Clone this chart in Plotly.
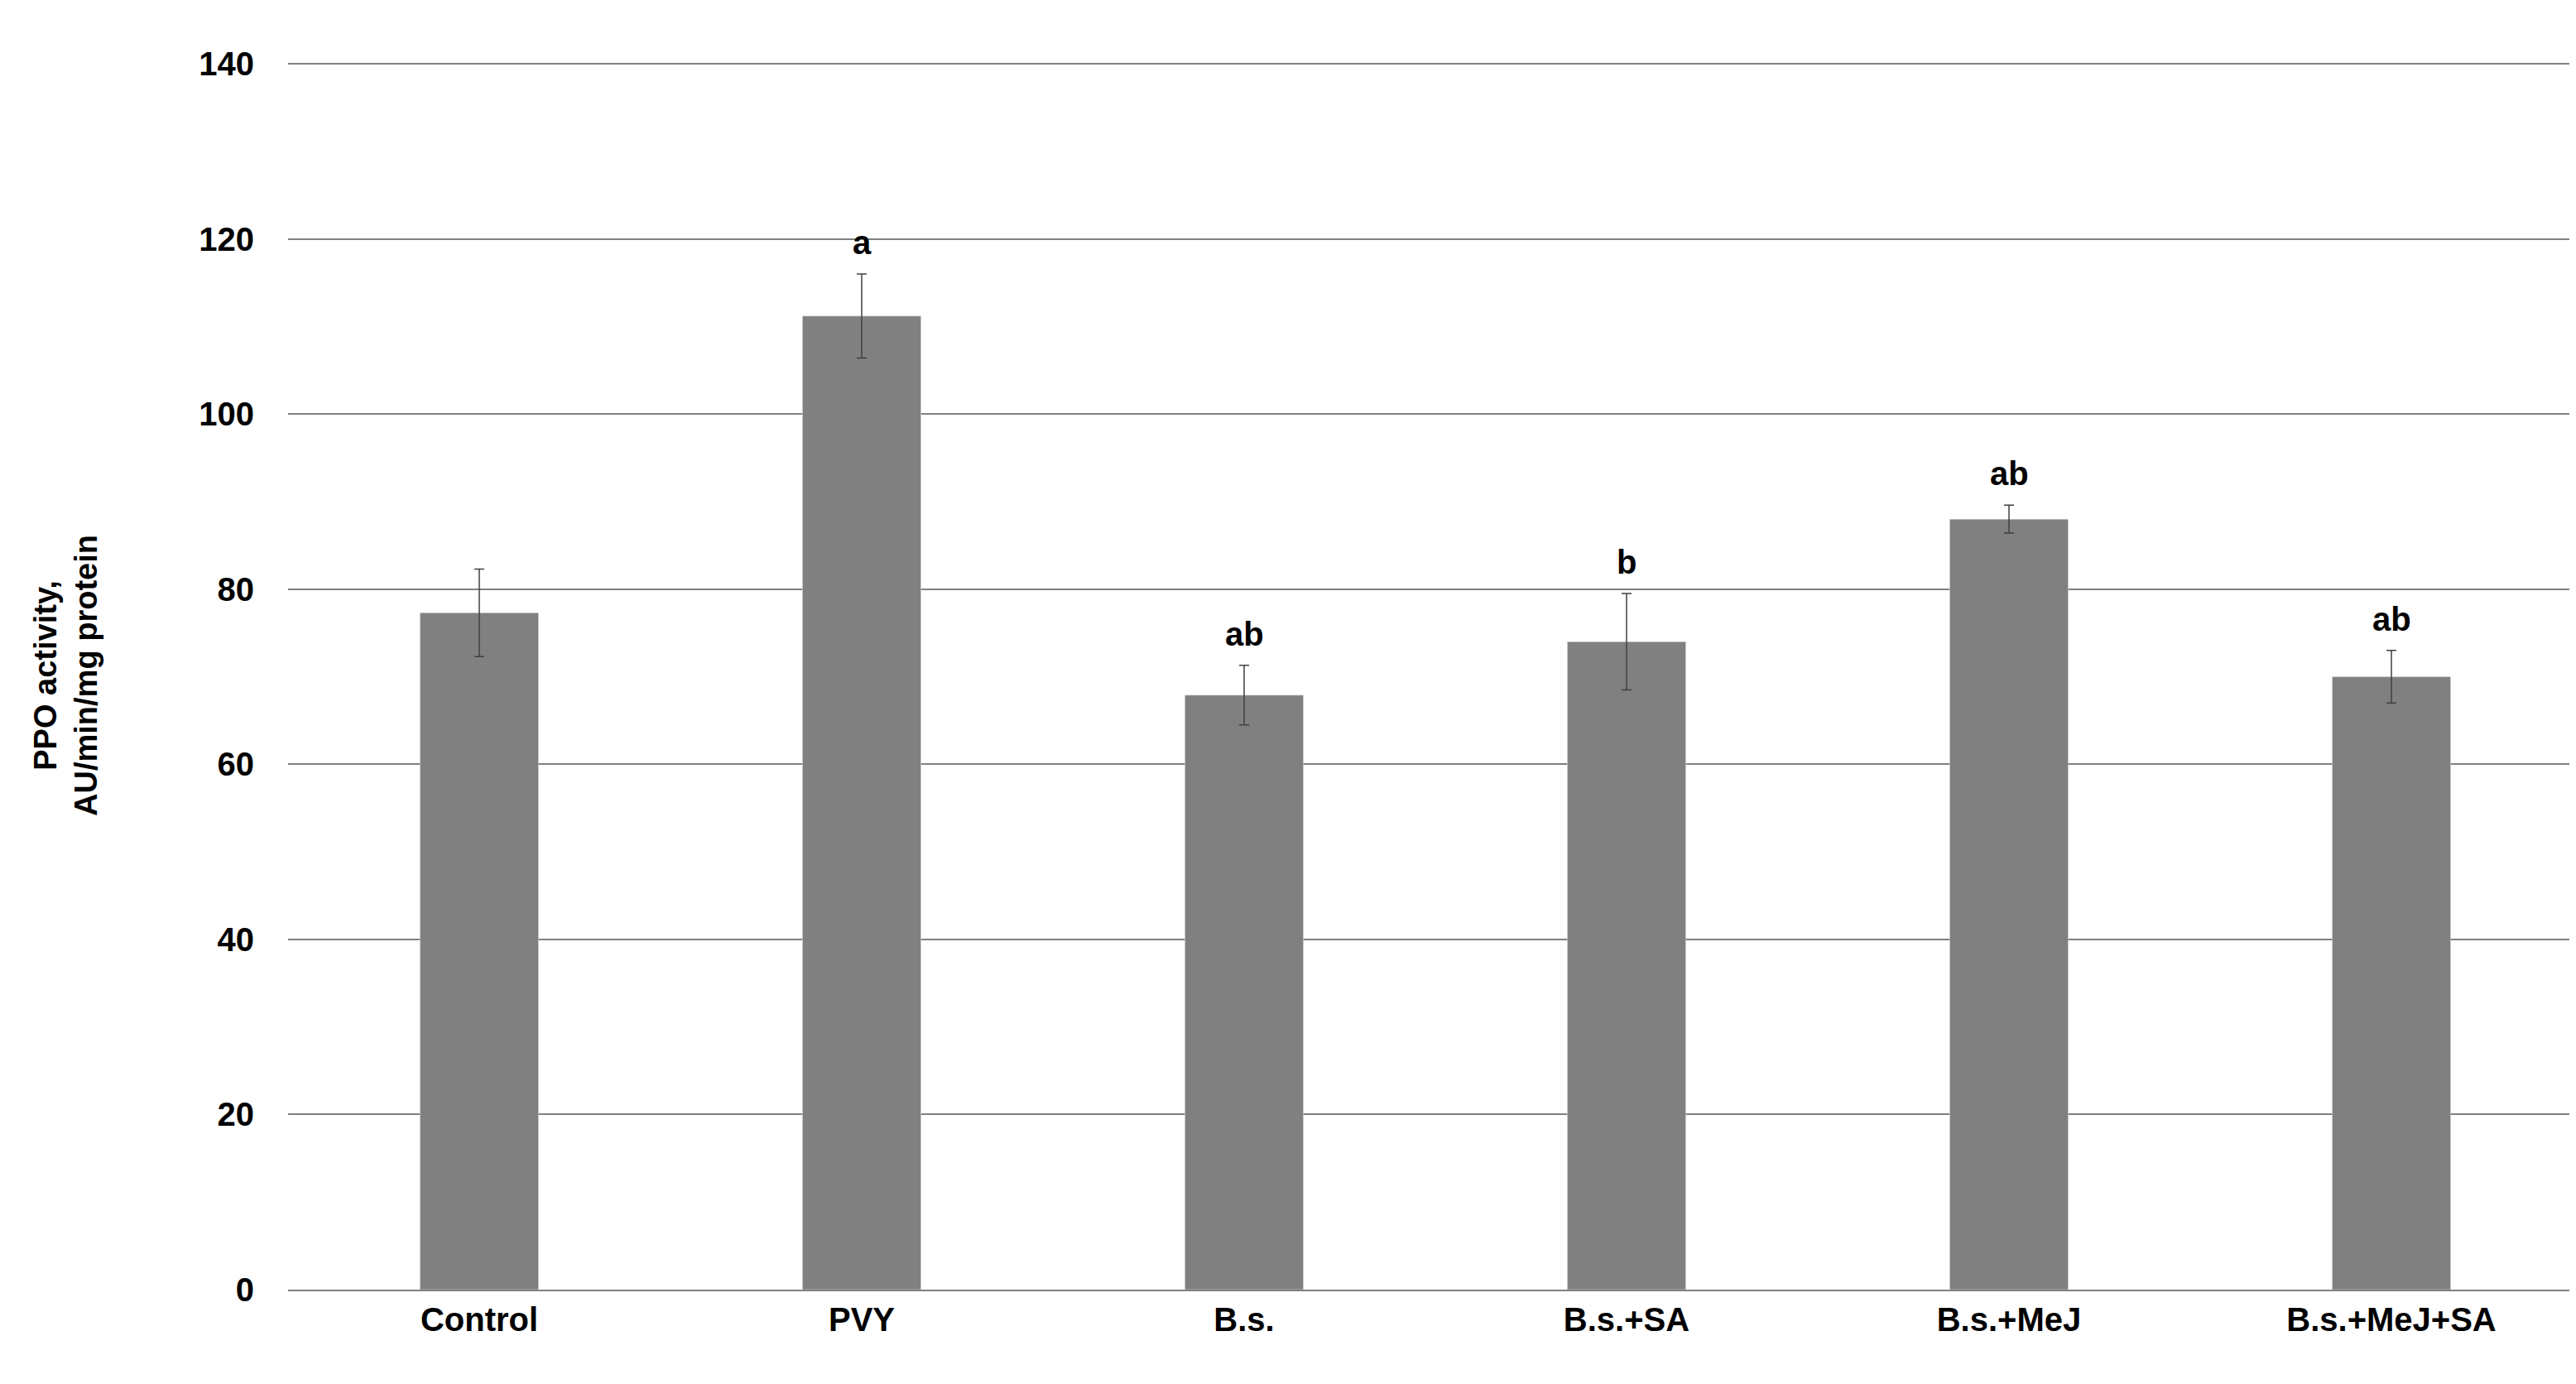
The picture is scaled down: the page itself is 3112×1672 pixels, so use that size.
import plotly.graph_objects as go

categories = ["Control", "PVY", "B.s.", "B.s.+SA", "B.s.+MeJ", "B.s.+MeJ+SA"]
values = [77.3, 111.2, 67.9, 74.0, 88.0, 70.0]
errors = [5.0, 4.8, 3.4, 5.5, 1.6, 3.0]
letters = ["", "a", "ab", "b", "ab", "ab"]
yticks = [0, 20, 40, 60, 80, 100, 120, 140]

font = "Liberation Sans, Arial, sans-serif"
fig = go.Figure(go.Bar(
    x=categories, y=values, width=0.31, marker_color="#808080",
    error_y=dict(type="data", array=errors, color="#404040", thickness=1.5, width=6),
))
for c, v, e, l in zip(categories, values, errors, letters):
    if l:
        fig.add_annotation(x=c, y=v + e, text=f"<b>{l}</b>", showarrow=False,
                           yanchor="bottom", yshift=14, font=dict(size=40, color="black", family=font))
fig.update_layout(
    width=3112, height=1672, plot_bgcolor="white", paper_bgcolor="white",
    margin=dict(l=340, r=0, t=66, b=122), showlegend=False,
    font=dict(family=font, size=40, color="black"),
    xaxis=dict(tickfont=dict(size=40), showline=True, linecolor="#808080", linewidth=2,
               tickprefix="<b>", ticksuffix="</b>", ticks=""),
    yaxis=dict(range=[0, 140.3], tickvals=yticks, ticktext=[f"<b>{t}</b>" for t in yticks],
               tickfont=dict(size=40), showgrid=True, gridcolor="#808080", gridwidth=2,
               ticklabelstandoff=40,
               title=dict(text="<b>PPO activity,<br>AU/min/mg protein</b>", font=dict(size=38), standoff=110),
               zeroline=False),
)
fig.write_html("out.html")
